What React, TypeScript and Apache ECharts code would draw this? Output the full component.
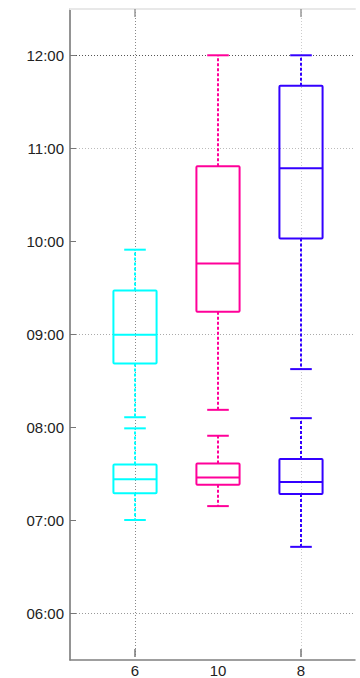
import React, { useEffect, useRef } from "react";
import * as echarts from "echarts";

// Categories along the x axis
const categories = ["6", "10", "8"];
const boxColors = ["#00FFFF", "#FF0099", "#3300FF"];

// Upper cluster boxes: [low, q1, median, q3, high] in hours
const upperBoxes = [
  [8.09, 8.67, 8.98, 9.46, 9.9],
  [8.17, 9.23, 9.75, 10.8, 12.0],
  [8.61, 10.02, 10.78, 11.67, 12.0],
];

// Lower cluster boxes: [low, q1, median, q3, high] in hours
const lowerBoxes = [
  [6.98, 7.27, 7.42, 7.58, 7.97],
  [7.13, 7.36, 7.44, 7.59, 7.89],
  [6.69, 7.26, 7.39, 7.64, 8.08],
];

const yMin = 5.5;
const yMax = 12.5;

function fmtHour(v: number): string {
  if (Math.abs(v - Math.round(v)) > 1e-6) return "";
  const h = Math.round(v);
  return (h < 10 ? "0" + h : "" + h) + ":00";
}

export default function App() {
  const ref = useRef<HTMLDivElement>(null);

  useEffect(() => {
    if (!ref.current) return;
    const chart = echarts.init(ref.current, null, { renderer: "svg" });

    const data: number[][] = [];
    categories.forEach((_, i) => {
      data.push([i, ...upperBoxes[i]]);
      data.push([i, ...lowerBoxes[i]]);
    });

    const renderItem = (params: any, api: any) => {
      const idx = api.value(0);
      const low = api.coord([idx, api.value(1)]);
      const q1 = api.coord([idx, api.value(2)]);
      const med = api.coord([idx, api.value(3)]);
      const q3 = api.coord([idx, api.value(4)]);
      const high = api.coord([idx, api.value(5)]);
      const band = api.size([1, 0])[0];
      const bw = band * 0.52;
      const cw = bw * 0.5;
      const x = low[0];
      const color = boxColors[idx];
      const solid = { stroke: color, lineWidth: 2, fill: "none" };
      const dashed = { stroke: color, lineWidth: 2, lineDash: [3, 2], fill: "none" };
      return {
        type: "group",
        children: [
          { type: "line", shape: { x1: x, y1: q3[1], x2: x, y2: high[1] }, style: dashed },
          { type: "line", shape: { x1: x, y1: q1[1], x2: x, y2: low[1] }, style: dashed },
          { type: "line", shape: { x1: x - cw / 2, y1: high[1], x2: x + cw / 2, y2: high[1] }, style: solid },
          { type: "line", shape: { x1: x - cw / 2, y1: low[1], x2: x + cw / 2, y2: low[1] }, style: solid },
          {
            type: "rect",
            shape: { x: x - bw / 2, y: q3[1], width: bw, height: q1[1] - q3[1], r: 1 },
            style: solid,
          },
          { type: "line", shape: { x1: x - bw / 2, y1: med[1], x2: x + bw / 2, y2: med[1] }, style: solid },
        ],
      };
    };

    const top = 9;
    const bottom = 18;
    const font = "Liberation Sans, Arial, sans-serif";
    const none = "rgba(0,0,0,0)";

    chart.setOption({
      animation: false,
      backgroundColor: "#ffffff",
      grid: [
        { left: 70, right: 5, top, bottom },
        { left: 135, right: 59, top, bottom },
      ],
      xAxis: [
        {
          gridIndex: 0,
          type: "value",
          min: 0,
          max: 1,
          position: "bottom",
          axisLine: { show: true, lineStyle: { color: "#808080", width: 1.5 } },
          axisTick: { show: false },
          axisLabel: { show: false },
          splitLine: { show: false },
        },
        {
          gridIndex: 0,
          type: "value",
          min: 0,
          max: 1,
          position: "top",
          axisLine: { show: true, lineStyle: { color: "#e8e8e8", width: 2 } },
          axisTick: { show: false },
          axisLabel: { show: false },
          splitLine: { show: false },
        },
        {
          gridIndex: 1,
          type: "category",
          data: categories,
          boundaryGap: false,
          position: "bottom",
          axisLine: { show: false },
          axisTick: {
            show: true,
            inside: true,
            length: 8,
            interval: (i: number) => i !== 1,
            lineStyle: { color: "#777", width: 1.5 },
          },
          axisLabel: {
            show: true,
            color: "#222",
            fontSize: 15,
            fontFamily: font,
            margin: 6,
            interval: 0,
          },
          splitLine: {
            show: true,
            lineStyle: { color: ["#888888", none, "#cccccc"], type: [1, 2], width: 1 },
          },
        },
        {
          gridIndex: 1,
          type: "category",
          data: categories,
          boundaryGap: false,
          position: "top",
          axisLine: { show: false },
          axisTick: {
            show: true,
            inside: true,
            length: 8,
            interval: (i: number) => i !== 1,
            lineStyle: { color: "#999", width: 1.5 },
          },
          axisLabel: { show: false },
          splitLine: { show: false },
        },
      ],
      yAxis: [
        {
          gridIndex: 0,
          type: "value",
          min: yMin,
          max: yMax,
          splitNumber: 7,
          axisLine: { show: true, lineStyle: { color: "#707070", width: 1.5 } },
          axisTick: { show: true, inside: true, length: 6, lineStyle: { color: "#777", width: 1 } },
          axisLabel: {
            show: true,
            color: "#222",
            fontSize: 15,
            fontFamily: font,
            margin: 6,
            showMinLabel: false,
            showMaxLabel: false,
            formatter: (v: number) => fmtHour(v),
          },
          splitLine: {
            show: true,
            showMinLine: false,
            showMaxLine: false,
            lineStyle: {
              // 06, 07, 08, 09, 10, 11, 12
              color: ["#999999", none, none, "#aaaaaa", none, "#bbbbbb", "#555555"],
              type: [1, 2],
              width: 1,
            },
          },
        },
        {
          gridIndex: 1,
          type: "value",
          min: yMin,
          max: yMax,
          show: false,
          splitLine: { show: false },
        },
      ],
      series: [
        {
          type: "custom",
          xAxisIndex: 2,
          yAxisIndex: 1,
          clip: false,
          renderItem,
          encode: { x: 0, y: [1, 2, 3, 4, 5] },
          data,
          z: 10,
        },
      ],
    });

    return () => chart.dispose();
  }, []);

  return (
    <div
      ref={ref}
      style={{ position: "fixed", left: 0, top: 0, width: 360, height: 678, background: "#fff" }}
    />
  );
}
